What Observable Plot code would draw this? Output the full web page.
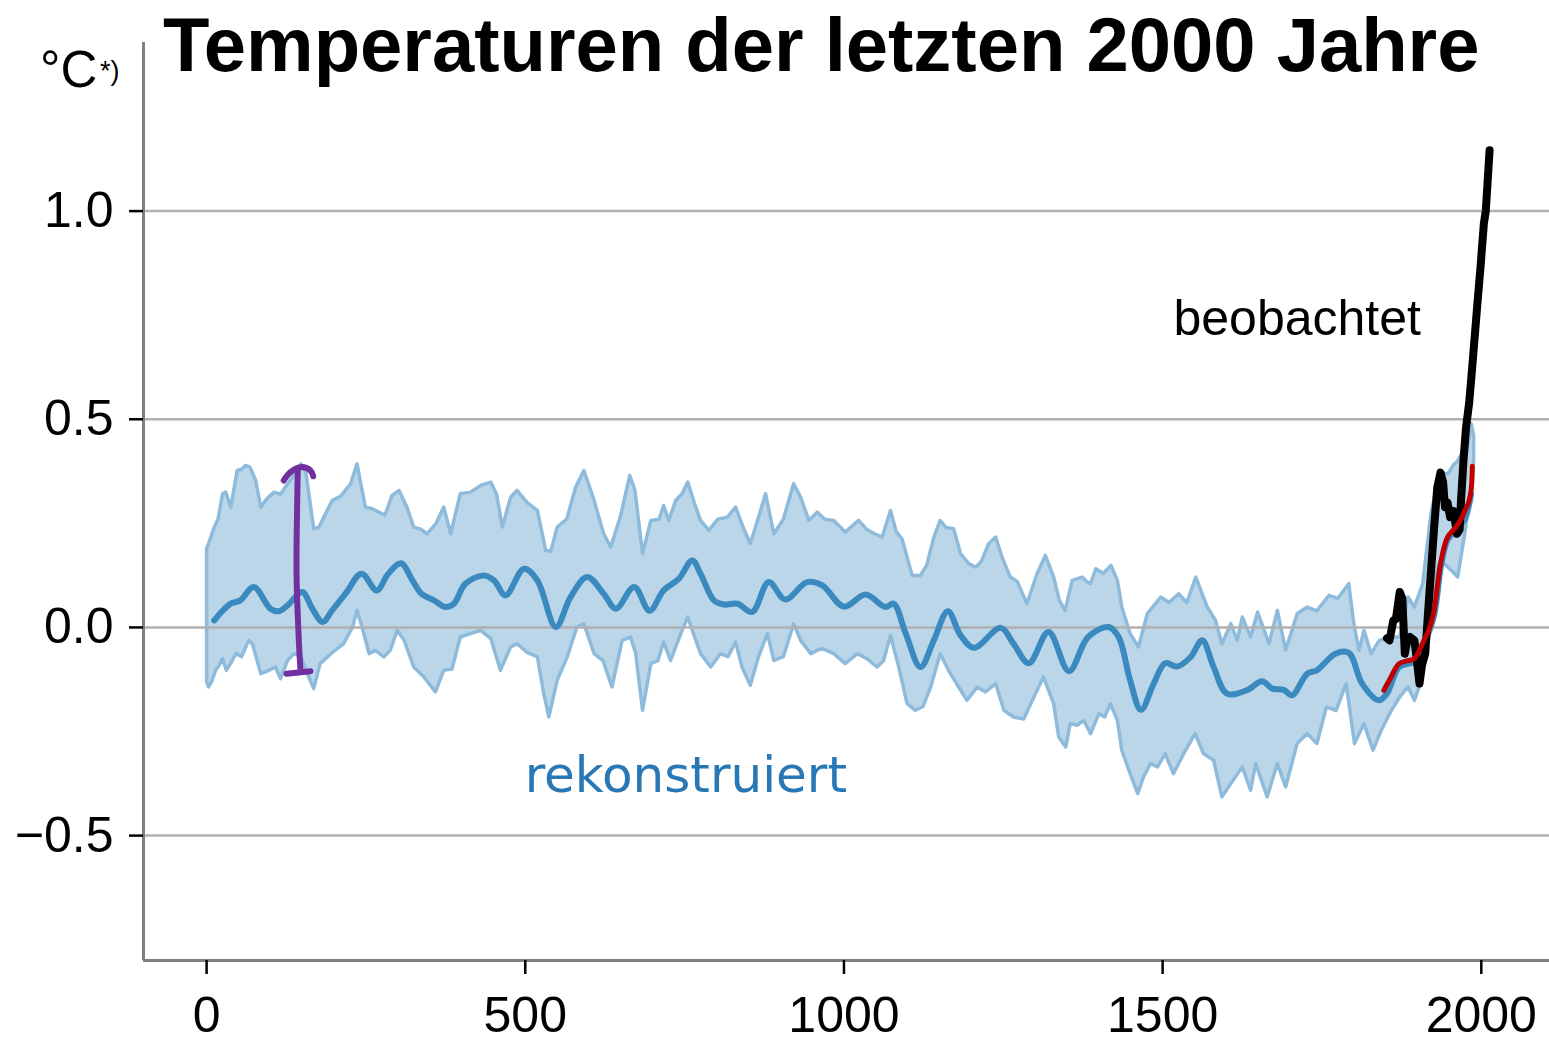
<!DOCTYPE html>
<html>
<head>
<meta charset="utf-8">
<script src="https://cdn.jsdelivr.net/npm/d3@7"></script>
<script src="https://cdn.jsdelivr.net/npm/@observablehq/plot@0.6"></script>
<style>
  html, body { margin: 0; padding: 0; background: #fff; }
  #wrap { position: relative; width: 1549px; height: 1045px; overflow: hidden; font-family: "Liberation Sans", Arial, sans-serif; }
  .ov { position: absolute; line-height: 1; white-space: nowrap; color: #000; }
  #title { left: 163px; top: 7px; font-size: 76px; font-weight: bold; }
  #unit { left: 40px; top: 44px; font-size: 51px; }
  #unitsup { left: 100px; top: 58px; font-size: 27px; }
</style>
</head>
<body>
<div id="wrap">
  <div id="chart"></div>
  <div class="ov" id="title">Temperaturen der letzten 2000 Jahre</div>
  <div class="ov" id="unit">°C</div>
  <div class="ov" id="unitsup">*)</div>
</div>
<script>
// ---- uncertainty band: upper edge ----
const upperYear = [0,3,12,18,25,30,38,48,55,61,68,77,85,95,106,116,127,137,148,156,168,176,184,197,210,226,236,249,260,270,280,291,302,314,325,336,346,360,372,383,398,414,430,446,455,464,477,487,503,519,532,540,550,565,579,592,607,623,634,649,664,672,684,697,710,717,725,736,746,755,765,775,788,802,817,830,842,853,865,877,890,905,921,932,945,958,970,984,1002,1023,1036,1048,1060,1073,1082,1091,1107,1120,1130,1141,1151,1160,1172,1183,1196,1207,1216,1227,1238,1248,1261,1272,1287,1303,1316,1329,1338,1347,1358,1374,1381,1387,1395,1407,1419,1429,1436,1449,1462,1476,1497,1510,1525,1538,1552,1570,1583,1593,1607,1617,1625,1638,1649,1667,1680,1693,1711,1727,1742,1761,1775,1792,1800,1808,1816,1827,1840,1858,1872,1885,1895,1908,1921,1932,1940,1948,1956,1963,1970,1978,1984,1988];
const upperValue = [0.19,0.201,0.241,0.26,0.321,0.325,0.289,0.377,0.38,0.389,0.385,0.353,0.289,0.31,0.325,0.32,0.345,0.365,0.393,0.37,0.237,0.24,0.265,0.305,0.315,0.345,0.393,0.289,0.285,0.277,0.27,0.317,0.329,0.29,0.241,0.236,0.225,0.25,0.289,0.225,0.321,0.325,0.341,0.349,0.32,0.241,0.313,0.329,0.30,0.281,0.185,0.183,0.241,0.26,0.337,0.377,0.31,0.225,0.193,0.265,0.365,0.33,0.177,0.257,0.26,0.293,0.257,0.305,0.321,0.349,0.3,0.257,0.233,0.26,0.265,0.289,0.24,0.201,0.26,0.321,0.225,0.26,0.345,0.313,0.257,0.277,0.26,0.257,0.229,0.257,0.235,0.225,0.217,0.281,0.23,0.213,0.125,0.125,0.15,0.217,0.257,0.24,0.237,0.177,0.153,0.145,0.16,0.201,0.217,0.169,0.121,0.11,0.057,0.129,0.173,0.121,0.065,0.041,0.113,0.121,0.11,0.105,0.141,0.13,0.149,0.113,0.049,-0.015,-0.047,0.033,0.073,0.06,0.081,0.06,0.121,0.049,0.017,-0.039,0.009,-0.031,0.025,-0.023,0.037,-0.039,0.041,-0.055,0.033,0.049,0.04,0.077,0.07,0.105,0.009,-0.055,-0.007,-0.063,-0.031,-0.023,-0.023,0.073,0.049,0.105,0.273,0.353,0.37,0.37,0.39,0.40,0.42,0.43,0.49,0.46];
// ---- uncertainty band: lower edge ----
const lowerYear = [0,3,8,14,20,25,31,40,46,55,66,72,85,95,108,116,127,137,148,158,168,178,195,215,229,236,244,255,265,278,288,299,310,325,341,359,372,385,398,414,430,446,461,477,487,503,519,529,537,550,566,581,592,608,622,636,652,665,673,684,697,708,717,728,744,755,765,775,791,806,818,830,840,853,866,880,890,905,921,932,948,965,984,1002,1021,1036,1052,1062,1073,1086,1099,1112,1124,1136,1151,1164,1180,1193,1209,1222,1238,1251,1266,1282,1298,1313,1329,1337,1348,1355,1366,1376,1387,1400,1409,1418,1429,1436,1447,1461,1470,1481,1492,1504,1517,1533,1551,1564,1580,1593,1607,1625,1638,1646,1664,1680,1693,1711,1727,1742,1757,1772,1788,1801,1816,1830,1843,1859,1872,1885,1895,1906,1916,1926,1935,1942,1953,1963,1974,1984,1988];
const lowerValue = [-0.13,-0.143,-0.13,-0.103,-0.09,-0.075,-0.103,-0.08,-0.063,-0.07,-0.031,-0.04,-0.111,-0.105,-0.095,-0.123,-0.079,-0.063,-0.07,-0.11,-0.147,-0.087,-0.063,-0.039,0.001,0.041,0.001,-0.063,-0.055,-0.071,-0.055,-0.007,-0.031,-0.095,-0.119,-0.155,-0.103,-0.1,-0.023,-0.015,-0.007,-0.027,-0.103,-0.047,-0.039,-0.06,-0.071,-0.159,-0.215,-0.127,-0.07,0.001,0.009,-0.063,-0.08,-0.143,-0.031,-0.023,-0.06,-0.199,-0.087,-0.08,-0.035,-0.079,-0.015,0.025,-0.02,-0.063,-0.095,-0.063,-0.07,-0.035,-0.095,-0.139,-0.07,-0.015,-0.079,-0.07,0.009,-0.031,-0.063,-0.05,-0.063,-0.087,-0.063,-0.075,-0.095,-0.08,-0.019,-0.095,-0.183,-0.199,-0.19,-0.143,-0.063,-0.103,-0.143,-0.175,-0.143,-0.155,-0.135,-0.199,-0.215,-0.22,-0.167,-0.119,-0.183,-0.263,-0.287,-0.231,-0.235,-0.223,-0.255,-0.207,-0.215,-0.183,-0.223,-0.295,-0.343,-0.399,-0.359,-0.327,-0.335,-0.303,-0.351,-0.303,-0.255,-0.303,-0.319,-0.407,-0.375,-0.335,-0.391,-0.327,-0.407,-0.327,-0.383,-0.279,-0.255,-0.279,-0.191,-0.2,-0.135,-0.279,-0.231,-0.295,-0.247,-0.199,-0.167,-0.143,-0.175,-0.127,-0.015,0.113,0.16,0.153,0.137,0.121,0.225,0.337,0.40];
// ---- reconstructed median ----
const medianYear = [12,25,38,53,74,100,113,127,150,166,182,197,218,243,267,285,305,323,337,357,375,388,406,435,451,469,498,519,548,571,597,623,642,671,695,717,741,762,775,796,812,833,856,882,908,942,966,1000,1034,1065,1078,1097,1120,1141,1163,1183,1204,1246,1266,1290,1321,1353,1383,1415,1431,1449,1466,1486,1504,1523,1544,1562,1580,1601,1632,1656,1672,1690,1703,1727,1742,1771,1792,1813,1839,1852,1871,1895,1910,1926,1937,1947,1960,1974,1984];
const medianValue = [0.017,0.04,0.057,0.065,0.097,0.045,0.039,0.053,0.085,0.045,0.013,0.041,0.081,0.129,0.089,0.129,0.154,0.113,0.081,0.065,0.049,0.057,0.105,0.125,0.113,0.077,0.141,0.113,0.001,0.073,0.121,0.081,0.045,0.097,0.04,0.089,0.117,0.161,0.129,0.065,0.055,0.057,0.037,0.109,0.067,0.109,0.101,0.05,0.079,0.049,0.057,-0.015,-0.095,-0.031,0.039,-0.019,-0.049,-0.001,-0.039,-0.086,-0.011,-0.105,-0.023,0.001,-0.023,-0.127,-0.198,-0.135,-0.086,-0.094,-0.071,-0.031,-0.095,-0.159,-0.151,-0.129,-0.147,-0.15,-0.163,-0.111,-0.103,-0.063,-0.061,-0.135,-0.175,-0.159,-0.095,-0.082,-0.04,0.03,0.15,0.21,0.235,0.26,0.32];
// ---- observed (instrumental) ----
const observedYear = [1852,1856,1862,1866,1872,1876,1880,1884,1888,1895,1899,1903,1907,1912,1920,1926,1931,1936,1940,1943,1947,1951,1956,1962,1966,1968,1972,1976,1981,1986,1994,1999,2004,2007,2013];
const observedValue = [-0.026,-0.031,0.017,0.02,0.085,0.07,-0.063,-0.03,-0.023,-0.031,-0.08,-0.135,-0.09,-0.063,0.113,0.24,0.337,0.372,0.35,0.289,0.3,0.265,0.28,0.225,0.235,0.30,0.40,0.48,0.54,0.63,0.78,0.87,0.97,1.0,1.146];
// ---- smoothed reconstruction end (red) ----
const smoothYear = [1847,1858,1871,1885,1895,1910,1918,1926,1931,1937,1947,1960,1968,1974,1980,1984,1986];
const smoothValue = [-0.151,-0.12,-0.087,-0.08,-0.075,-0.031,-0.005,0.041,0.1,0.161,0.217,0.241,0.26,0.28,0.30,0.329,0.387];
// ---- hand-drawn range marker (purple) ----
const markPart  = ["hook","hook","hook","hook","hook","stem","stem","stem","stem","stem","bar","bar"];
const markYear  = [121,131.6,147.3,163,167.3,143.1,142.2,141.1,144.7,147.3,125.4,163];
const markValue = [0.353,0.373,0.385,0.377,0.363,0.377,0.305,0.13,-0.031,-0.103,-0.111,-0.105];
// ---- labels ----
const labelText  = ["beobachtet","rekonstruiert"];
const labelYear  = [1517,499];
const labelValue = [0.742,-0.357];
// ---- ticks ----
const xTicks = [0,500,1000,1500,2000];
const xTickLabels = ["0","500","1000","1500","2000"];
const yTicks = [-0.5,0,0.5,1.0];
const yTickLabels = ["−0.5","0.0","0.5","1.0"];

const toRows = (xs, ys) => xs.map((x, i) => ({year: x, value: ys[i]}));
const upper = toRows(upperYear, upperValue);
const lower = toRows(lowerYear, lowerValue);
const band = upper.concat(lower.slice().reverse());
band.push(band[0]);
const median = toRows(medianYear, medianValue);
const observed = toRows(observedYear, observedValue);
const smooth = toRows(smoothYear, smoothValue);
const marker = markYear.map((x, i) => ({year: x, value: markValue[i], part: markPart[i]}));
const labels = labelText.map((t, i) => ({text: t, year: labelYear[i], value: labelValue[i]}));

const chart = Plot.plot({
  width: 1549,
  height: 1045,
  marginLeft: 143,
  marginRight: 0,
  marginTop: 42,
  marginBottom: 85,
  x: {domain: [-99, 2107], label: null},
  y: {domain: [-0.8, 1.405], label: null},
  style: {fontFamily: '"Liberation Sans", Arial, sans-serif', fontSize: "50px", background: "white", color: "black", overflow: "visible"},
  marks: [
    Plot.line(band, {x: "year", y: "value", fill: "#bbd6e9", stroke: "#8ebbdb", strokeWidth: 3.5, curve: "linear"}),
    Plot.gridY(yTicks, {stroke: "#b0b0b0", strokeOpacity: 1, strokeWidth: 2.5}),
    Plot.line(median, {x: "year", y: "value", stroke: "#3a8ac0", strokeWidth: 6, curve: "catmull-rom"}),
    Plot.line(observed, {x: "year", y: "value", stroke: "#000", strokeWidth: 8, curve: "linear"}),
    Plot.line(smooth, {x: "year", y: "value", stroke: "#c00000", strokeWidth: 5, curve: "catmull-rom"}),
    Plot.line(marker, {x: "year", y: "value", z: "part", stroke: "#7030a0", strokeWidth: 6, curve: "catmull-rom"}),
    Plot.text(labels.slice(0, 1), {x: "year", y: "value", text: "text", textAnchor: "start", fill: "#000", fontSize: 50, fontFamily: '"Liberation Sans", Arial, sans-serif'}),
    Plot.text(labels.slice(1), {x: "year", y: "value", text: "text", textAnchor: "start", fill: "#2878b5", fontSize: 50, fontFamily: '"DejaVu Sans", sans-serif'}),
    Plot.ruleX([-99], {stroke: "#808080", strokeWidth: 3}),
    Plot.ruleY([-0.8], {stroke: "#808080", strokeWidth: 3}),
    Plot.axisX(xTicks, {tickSize: 14, tickPadding: 22, strokeWidth: 2.5, fontSize: 50, label: null,
      tickFormat: d => xTickLabels[xTicks.indexOf(d)]}),
    Plot.axisY(yTicks, {tickSize: 14, tickPadding: 16, strokeWidth: 2.5, fontSize: 50, label: null,
      tickFormat: d => yTickLabels[yTicks.indexOf(d)]})
  ]
});
document.getElementById("chart").appendChild(chart);
</script>
</body>
</html>
